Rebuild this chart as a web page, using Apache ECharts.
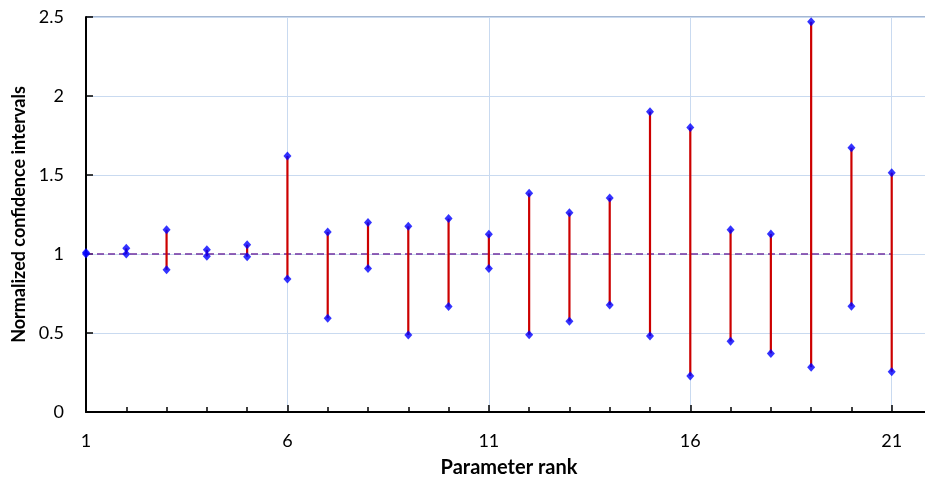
<!DOCTYPE html>
<html><head><meta charset="utf-8">
<script src="https://cdn.jsdelivr.net/npm/echarts@6/dist/echarts.min.js"></script>
<style>html,body{margin:0;padding:0;background:#fff}#c{width:925px;height:479px}</style>
</head><body><div id="c"></div>
<script>
var ranks = [1,2,3,4,5,6,7,8,9,10,11,12,13,14,15,16,17,18,19,20,21];
var lower = [1.00,1.00,0.90,0.985,0.983,0.842,0.593,0.909,0.487,0.667,0.909,0.489,0.574,0.677,0.481,0.228,0.447,0.371,0.283,0.669,0.255];
var upper = [1.01,1.036,1.154,1.027,1.059,1.62,1.139,1.20,1.175,1.224,1.125,1.384,1.261,1.354,1.901,1.80,1.154,1.127,2.47,1.673,1.515];
var refLine = [[1,1],[21,1]];
var yTicks = [0,0.5,1,1.5,2,2.5];

var font = 'Lato';
var chart = echarts.init(document.getElementById('c'), null, {renderer:'canvas'});
var segData = ranks.map(function(r,i){return [r, lower[i], upper[i]];});
var pts = [];
ranks.forEach(function(r,i){pts.push([r, lower[i]]); pts.push([r, upper[i]]);});

chart.setOption({
  animation:false,
  backgroundColor:'#fff',
  grid:{left:86, top:17, width:846, height:395, outerBoundsMode:'none', containLabel:false, show:true, borderColor:'#4a6fa5', borderWidth:1, backgroundColor:'transparent'},
  xAxis:{
    type:'value', min:1, max:22, interval:5,
    name:'Parameter rank', nameLocation:'middle', nameGap:46,
    nameTextStyle:{fontFamily:font, fontWeight:'bold', fontSize:20, color:'#000'},
    axisLine:{show:true, lineStyle:{color:'#000', width:2}},
    axisTick:{show:true, inside:true, length:7, lineStyle:{color:'#000', width:1.5}},
    minorTick:{show:true, splitNumber:5, length:5, lineStyle:{color:'#000', width:1.5}},
    axisLabel:{fontFamily:font, fontSize:18, color:'#000', margin:20, showMaxLabel:false},
    splitLine:{show:true, lineStyle:{color:'#c9daf0', width:1}},
    minorSplitLine:{show:false}
  },
  yAxis:{
    type:'value', min:yTicks[0], max:yTicks[yTicks.length-1], interval:0.5,
    name:'Normalized confidence intervals', nameLocation:'middle', nameGap:56,
    nameTextStyle:{fontFamily:font, fontWeight:'bold', fontSize:18, color:'#000'},
    axisLine:{show:true, lineStyle:{color:'#000', width:2}},
    axisTick:{show:true, inside:true, length:7, lineStyle:{color:'#000', width:1.5}},
    axisLabel:{fontFamily:font, fontSize:18, color:'#000', margin:22},
    splitLine:{show:true, lineStyle:{color:'#c9daf0', width:1}}
  },
  series:[
    {type:'line', data:refLine, symbol:'none', lineStyle:{color:'#7030a0', width:1.5, type:[7,4]}, z:2, silent:true},
    {type:'custom', data:segData, z:3, renderItem:function(params, api){
        var p1 = api.coord([api.value(0), api.value(1)]);
        var p2 = api.coord([api.value(0), api.value(2)]);
        return {type:'line', shape:{x1:p1[0], y1:p1[1], x2:p2[0], y2:p2[1]}, style:{stroke:'#cc0000', lineWidth:2.2}};
      }, encode:{x:0, y:[1,2]}},
    {type:'scatter', data:pts, symbol:'diamond', symbolSize:[8,9], itemStyle:{color:'#0000ff'}, z:4}
  ]
});
</script></body></html>
